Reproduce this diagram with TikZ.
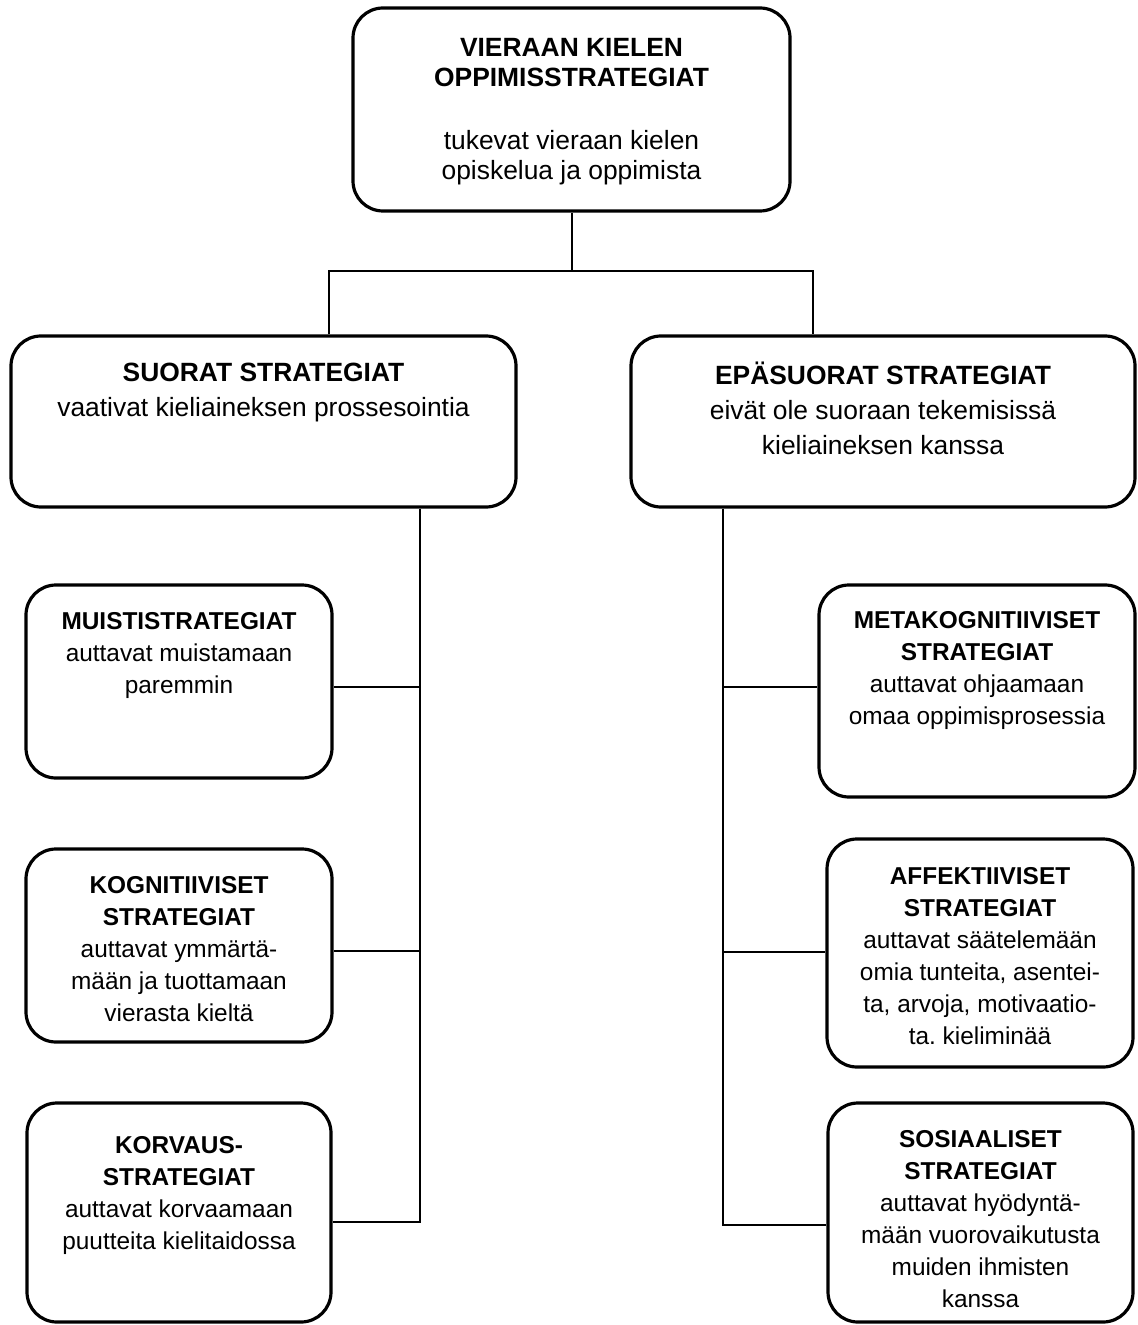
\documentclass[tikz,border=0pt]{standalone}
\usepackage{fontspec}
\setmainfont{Liberation Sans}
\frenchspacing
\usepackage{tikz}
\usetikzlibrary{calc}
\tikzset{
  stratbox/.style={draw, line width=1.6pt, rounded corners=15pt, inner sep=0pt},
  bigtext/.style={anchor=north, align=center, inner sep=0pt, font=\fontsize{13.2}{17.5}\selectfont},
  smalltext/.style={anchor=north, align=center, inner sep=0pt, font=\fontsize{12.2}{16}\selectfont},
  conn/.style={line width=1pt}
}

\begin{document}
\begin{tikzpicture}[x=0.5pt, y=-0.5pt]
  \useasboundingbox (0,0) rectangle (1138,1325);
  % boxes
  \node[stratbox, minimum width=218.5pt, minimum height=101.5pt] (top) at (571.5,109.5) {};
  \node[stratbox, minimum width=252.5pt, minimum height=85.5pt] (suorat) at (263.5,421.5) {};
  \node[stratbox, minimum width=252pt, minimum height=85.5pt] (epasuorat) at (883,421.5) {};
  \node[stratbox, minimum width=153pt, minimum height=96.5pt] (muisti) at (179,681.5) {};
  \node[stratbox, minimum width=153pt, minimum height=96.5pt] (kogn) at (179,945.5) {};
  \node[stratbox, minimum width=152pt, minimum height=109.5pt] (korvaus) at (179,1212.5) {};
  \node[stratbox, minimum width=158pt, minimum height=106pt] (meta) at (977,691) {};
  \node[stratbox, minimum width=153pt, minimum height=114pt] (affekt) at (980,953) {};
  \node[stratbox, minimum width=152.5pt, minimum height=109.5pt] (sosiaal) at (980.5,1212.5) {};
  % texts
  \node[bigtext, font=\fontsize{13.2}{15.2}\selectfont] (toptext) at (571.5,37.5)
    {\textbf{VIERAAN KIELEN}\\\textbf{OPPIMISSTRATEGIAT}\\[16.2pt]tukevat vieraan kielen\\opiskelua ja oppimista};
  \node[bigtext] (suorattext) at (263.5,362.5)
    {\textbf{SUORAT STRATEGIAT}\\vaativat kieliaineksen prossesointia};
  \node[bigtext] (epasuorattext) at (883,362)
    {\textbf{EPÄSUORAT STRATEGIAT}\\eivät ole suoraan tekemisissä\\kieliaineksen kanssa};
  \node[smalltext] (muistitext) at (179,612)
    {\textbf{MUISTISTRATEGIAT}\\auttavat muistamaan\\paremmin};
  \node[smalltext] (kogntext) at (179,876.5)
    {\textbf{KOGNITIIVISET}\\\textbf{STRATEGIAT}\\auttavat ymmärtä-\\mään ja tuottamaan\\vierasta kieltä};
  \node[smalltext] (korvaustext) at (179,1136.5)
    {\textbf{KORVAUS-}\\\textbf{STRATEGIAT}\\auttavat korvaamaan\\puutteita kielitaidossa};
  \node[smalltext] (metatext) at (977,611.5)
    {\textbf{METAKOGNITIIVISET}\\\textbf{STRATEGIAT}\\auttavat ohjaamaan\\omaa oppimisprosessia};
  \node[smalltext] (affekttext) at (980,867)
    {\textbf{AFFEKTIIVISET}\\\textbf{STRATEGIAT}\\auttavat säätelemään\\omia tunteita, asentei-\\ta, arvoja, motivaatio-\\ta. kieliminää};
  \node[smalltext] (sosiaaltext) at (980.5,1130)
    {\textbf{SOSIAALISET}\\\textbf{STRATEGIAT}\\auttavat hyödyntä-\\mään vuorovaikutusta\\muiden ihmisten\\kanssa};
  % tree
  \coordinate (jl) at (329,271);
  \coordinate (jr) at (813,271);
  \coordinate (l1) at (420,687);
  \coordinate (l2) at (420,951);
  \coordinate (l3) at (420,1222);
  \coordinate (r1) at (723,687);
  \coordinate (r2) at (723,952);
  \coordinate (r3) at (723,1225);
  \draw[conn] (top.south) -- (top.south |- jl);
  \draw[conn] (jl |- suorat.north) -- (jl) -- (jr) -- (jr |- epasuorat.north);
  \draw[conn] (l1 |- suorat.south) -- (l3) -- (l3 -| korvaus.east);
  \draw[conn] (l1) -- (l1 -| muisti.east);
  \draw[conn] (l2) -- (l2 -| kogn.east);
  \draw[conn] (r1 |- epasuorat.south) -- (r3) -- (r3 -| sosiaal.west);
  \draw[conn] (r1) -- (r1 -| meta.west);
  \draw[conn] (r2) -- (r2 -| affekt.west);
\end{tikzpicture}
\end{document}
